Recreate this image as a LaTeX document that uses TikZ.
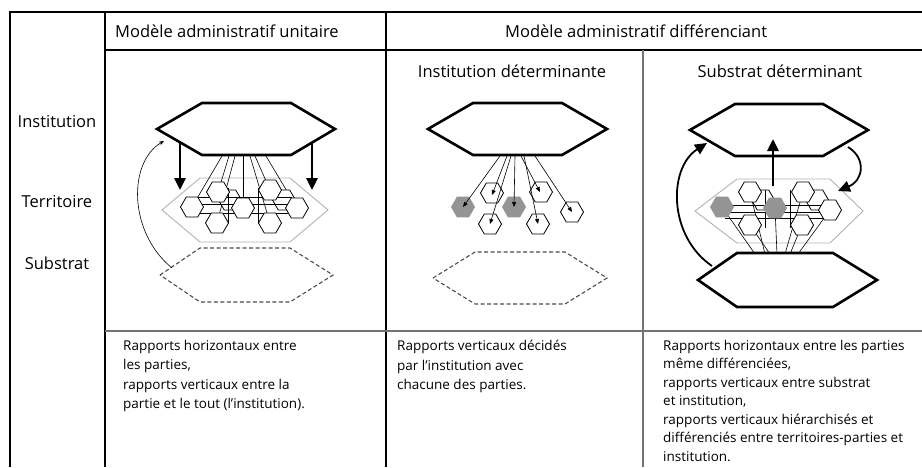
\documentclass[tikz,border=0pt]{standalone}
\usepackage{fontspec}
\setmainfont{Open Sans}
\usetikzlibrary{arrows.meta}

\begin{document}
\begin{tikzpicture}[x=1pt,y=-1pt,
  frame/.style={line width=2.8pt},
  sep/.style={line width=1.3pt,black!55},
  inst/.style={line width=2.6pt,line join=miter,fill=white},
  terr/.style={line width=0.9pt,black!30},
  subs/.style={line width=1.1pt,black!70,dash pattern=on 4pt off 2.5pt},
  part/.style={line width=0.8pt,fill=white},
  partgrey/.style={fill=black!42},
  link/.style={line width=0.6pt},
  bigarrow/.style={line width=2.8pt,-{Triangle[length=12pt,width=11pt]}},
  smallarrow/.style={line width=0.6pt,-{Triangle[length=5pt,width=4pt]}},
  lab/.style={font=\fontsize{16.5}{19}\selectfont,inner sep=0pt},
  txt/.style={align=left,anchor=north west,inner sep=0pt}
]
\useasboundingbox (0,0) rectangle (922,467);

% table
\draw[frame] (10,467) -- (10,12) -- (922,12);
\draw[frame] (105,12) -- (105,467);
\draw[frame] (386,12) -- (386,467);
\draw[frame] (105,50) -- (922,50);
\draw[sep] (643,50) -- (643,467);
\draw[sep] (105,331) -- (922,331);

% headers
\node[lab,anchor=base west] (head1) at (115,37.5) {Modèle administratif unitaire};
\node[lab,anchor=base west] (head2) at (505,37.5) {Modèle administratif différenciant};
\node[lab,anchor=base] (sub2) at (512,77) {Institution déterminante};
\node[lab,anchor=base] (sub3) at (780,77) {Substrat déterminant};

\node[lab,anchor=base] (row1) at (57,127) {Institution};
\node[lab,anchor=base] (row2) at (57,207) {Territoire};
\node[lab,anchor=base] (row3) at (57,269) {Substrat};

% --- unitaire
\coordinate (I1) at (157,129);
\coordinate (T1) at (162,210);
\coordinate (S1) at (160,275);

\draw[subs] (S1) -- ++(40,-27) -- ++(90,0) -- ++(43,27) -- ++(-43,27) -- ++(-90,0) -- cycle;
\draw[terr] (T1) -- ++(38,-32) -- ++(90,0) -- ++(38,32) -- ++(-38,32) -- ++(-90,0) -- cycle;

\foreach \ox/\x/\y in {222/192/207, 229/218/192, 243/243/208, 255/270/190, 266/297/208, 235/217/223, 250/270/223}
  \draw[link] (\ox,156) -- (\x,\y);
\foreach \x/\y in {230/200, 284/200}
  \draw[part] (\x,\y) +(0:11.5) -- +(60:11.5) -- +(120:11.5) -- +(180:11.5) -- +(240:11.5) -- +(300:11.5) -- cycle;
\draw[link] (196,197) -- (292,197) (196,204) -- (292,204) (196,213) -- (292,213);
\draw[link] (228,188) -- (228,224) (258,188) -- (258,224);
\foreach \x/\y in {192/207, 218/192, 243/208, 270/190, 297/208, 217/223, 270/223}
  \draw[part] (\x,\y) +(0:11.5) -- +(60:11.5) -- +(120:11.5) -- +(180:11.5) -- +(240:11.5) -- +(300:11.5) -- cycle;

\draw[inst] (I1) -- ++(45,-26) -- ++(89,0) -- ++(44,26) -- ++(-44,26) -- ++(-89,0) -- cycle;

\coordinate (a1s) at (180,143);
\coordinate (a1e) at (180,190);
\coordinate (a2s) at (312,143);
\coordinate (a2e) at (312,190);
\draw[bigarrow] (a1s) -- (a1e);
\draw[bigarrow] (a2s) -- (a2e);

\coordinate (c1s) at (172,268);
\coordinate (c1e) at (164,141);
\draw[link,-{Stealth[length=5pt,width=4pt]}] (c1s) .. controls (128,232) and (128,162) .. (c1e);

% --- institution determinante
\coordinate (I2) at (428,129);
\coordinate (S2) at (433,278);

\draw[subs] (S2) -- ++(42,-26) -- ++(90,0) -- ++(42,26) -- ++(-42,26) -- ++(-90,0) -- cycle;
\draw[inst] (I2) -- ++(45,-26) -- ++(89,0) -- ++(45,26) -- ++(-45,26) -- ++(-89,0) -- cycle;

\foreach \x/\y in {492/193, 490/224, 541/192, 538/224, 572/212}
  \draw[part] (\x,\y) +(0:11.5) -- +(60:11.5) -- +(120:11.5) -- +(180:11.5) -- +(240:11.5) -- +(300:11.5) -- cycle;
\foreach \x/\y in {463/207, 514/207}
  \fill[partgrey] (\x,\y) +(0:12) -- +(60:12) -- +(120:12) -- +(180:12) -- +(240:12) -- +(300:12) -- cycle;

\foreach \ox/\x/\y in {500/463/207, 507/492/195, 511/490/224, 515/514/207, 521/540/192, 524/538/224, 535/572/212}
  \draw[smallarrow] (\ox,156) -- (\x,\y);

% --- substrat determinant
\coordinate (I3) at (690,130);
\coordinate (T3) at (695,211);
\coordinate (S3) at (698,280);

\draw[terr] (T3) -- ++(42,-32) -- ++(93,0) -- ++(33,32) -- ++(-33,32) -- ++(-93,0) -- cycle;

\foreach \ox/\x/\y in {755/722/207, 765/750/192, 777/775/208, 785/803/192, 798/830/210, 770/750/225, 790/802/225}
  \draw[link] (\ox,254) -- (\x,\y);
\foreach \x/\y in {763/200, 817/200}
  \draw[part] (\x,\y) +(0:11.5) -- +(60:11.5) -- +(120:11.5) -- +(180:11.5) -- +(240:11.5) -- +(300:11.5) -- cycle;
\draw[link] (725,205) -- (826,205) (725,212) -- (826,212) (725,218) -- (826,218);
\draw[link] (765,190) -- (765,228) (790,190) -- (790,228);
\foreach \x/\y in {750/192, 803/192, 830/210, 750/225, 802/225}
  \draw[part] (\x,\y) +(0:11.5) -- +(60:11.5) -- +(120:11.5) -- +(180:11.5) -- +(240:11.5) -- +(300:11.5) -- cycle;
\foreach \x/\y in {722/207, 775/208}
  \fill[partgrey] (\x,\y) +(0:12) -- +(60:12) -- +(120:12) -- +(180:12) -- +(240:12) -- +(300:12) -- cycle;

\draw[inst] (I3) -- ++(45,-26) -- ++(88,0) -- ++(45,26) -- ++(-45,26) -- ++(-88,0) -- cycle;
\draw[inst] (S3) -- ++(39,-27) -- ++(96,0) -- ++(44,27) -- ++(-44,27) -- ++(-96,0) -- cycle;

\coordinate (a3s) at (773,186);
\coordinate (a3e) at (773,139);
\draw[bigarrow] (a3s) -- (a3e);

\coordinate (c3s) at (712,266);
\coordinate (c3e) at (707,143);
\draw[bigarrow,line width=1.8pt] (c3s) .. controls (668,236) and (668,168) .. (c3e);
\coordinate (c4s) at (848,147);
\coordinate (c4e) at (838,191);
\draw[bigarrow,line width=1.8pt] (c4s) .. controls (866,158) and (864,180) .. (c4e);

% texts
\node[txt,font=\fontsize{13.5}{19.5}\selectfont] (text1) at (123,340) {Rapports horizontaux entre\\les parties,\\rapports verticaux entre la\\partie et le tout (l'institution).};
\node[txt,font=\fontsize{13.5}{19.5}\selectfont] (text2) at (397,340) {Rapports verticaux décidés\\par l'institution avec\\chacune des parties.};
\node[txt,font=\fontsize{13.5}{18.5}\selectfont] (text3) at (663,340) {Rapports horizontaux entre les parties\\même différenciées,\\rapports verticaux entre substrat\\et institution,\\rapports verticaux hiérarchisés et\\différenciés entre territoires-parties et\\institution.};

\end{tikzpicture}
\end{document}
